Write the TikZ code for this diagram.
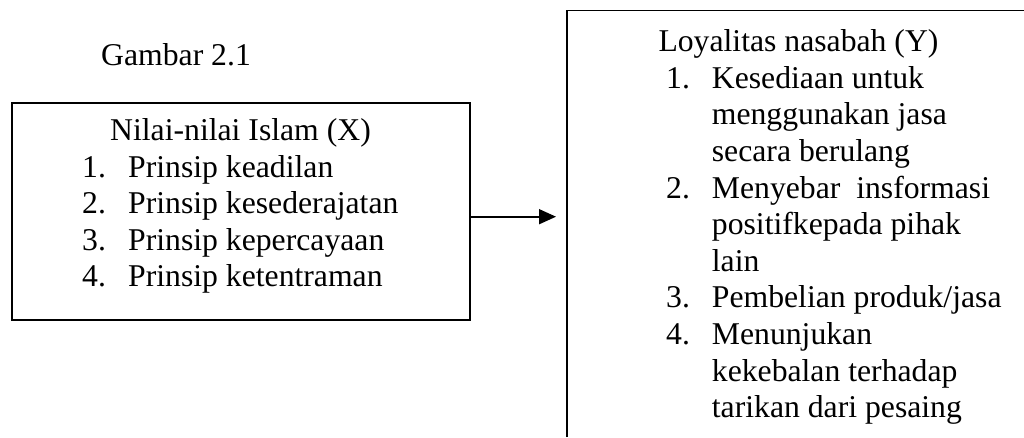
\documentclass[tikz,border=0pt]{standalone}
\usepackage{fontspec}
\setmainfont{Liberation Serif}
\usetikzlibrary{arrows.meta}
\begin{document}
\begin{tikzpicture}[x=1pt,y=-1pt,
  txt/.style={anchor=base west, inner sep=0pt, font=\fontsize{31.7}{36.6}\selectfont},
  box/.style={draw, line width=1.6pt, inner sep=0pt},
  conn/.style={line width=1.6pt, -{Triangle[length=17pt,width=15pt]}}]
\useasboundingbox (0,0) rectangle (1024,437);
% caption
\node[txt] (cap) at (101,65) {Gambar 2.1};
% left box
\node[box, minimum width=458pt, minimum height=217pt] (L) at (241,211.5) {};
\node[txt] (Lh) at (110,140) {Nilai-nilai Islam (X)};
\node[txt] (Ln1) at (82,177) {1.};
\node[txt] (Lt1) at (128,177) {Prinsip keadilan};
\node[txt] (Ln2) at (82,213.5) {2.};
\node[txt] (Lt2) at (128,213.5) {Prinsip kesederajatan};
\node[txt] (Ln3) at (82,250) {3.};
\node[txt] (Lt3) at (128,250) {Prinsip kepercayaan};
\node[txt] (Ln4) at (82,286.5) {4.};
\node[txt] (Lt4) at (128,286.5) {Prinsip ketentraman};
% right box (open at right and bottom)
\coordinate (RB) at (567,437);
\coordinate (RT) at (567,10.5);
\coordinate (RR) at (1024,10.5);
\draw[line width=1.6pt] (RB) -- (RT) -- (RR);
\node[txt] (Rh) at (658.3,51.7) {Loyalitas nasabah (Y)};
\node[txt] (Rn1) at (666,88.3) {1.};
\node[txt] (Rt1a) at (711.7,88.3) {Kesediaan untuk};
\node[txt] (Rt1b) at (711.7,124.9) {menggunakan jasa};
\node[txt] (Rt1c) at (711.7,161.5) {secara berulang};
\node[txt] (Rn2) at (666,198.1) {2.};
\node[txt] (Rt2a) at (711.7,198.1) {Menyebar\ \ insformasi};
\node[txt] (Rt2b) at (711.7,234.7) {positifkepada pihak};
\node[txt] (Rt2c) at (711.7,271.3) {lain};
\node[txt] (Rn3) at (666,307.9) {3.};
\node[txt] (Rt3) at (711.7,307.9) {Pembelian produk/jasa};
\node[txt] (Rn4) at (666,344.5) {4.};
\node[txt] (Rt4a) at (711.7,344.5) {Menunjukan};
\node[txt] (Rt4b) at (711.7,381.1) {kekebalan terhadap};
\node[txt] (Rt4c) at (711.7,417.7) {tarikan dari pesaing};
% arrow
\coordinate (tip) at (556,216.7);
\draw[conn] (L.east |- tip) -- (tip);
\end{tikzpicture}
\end{document}
